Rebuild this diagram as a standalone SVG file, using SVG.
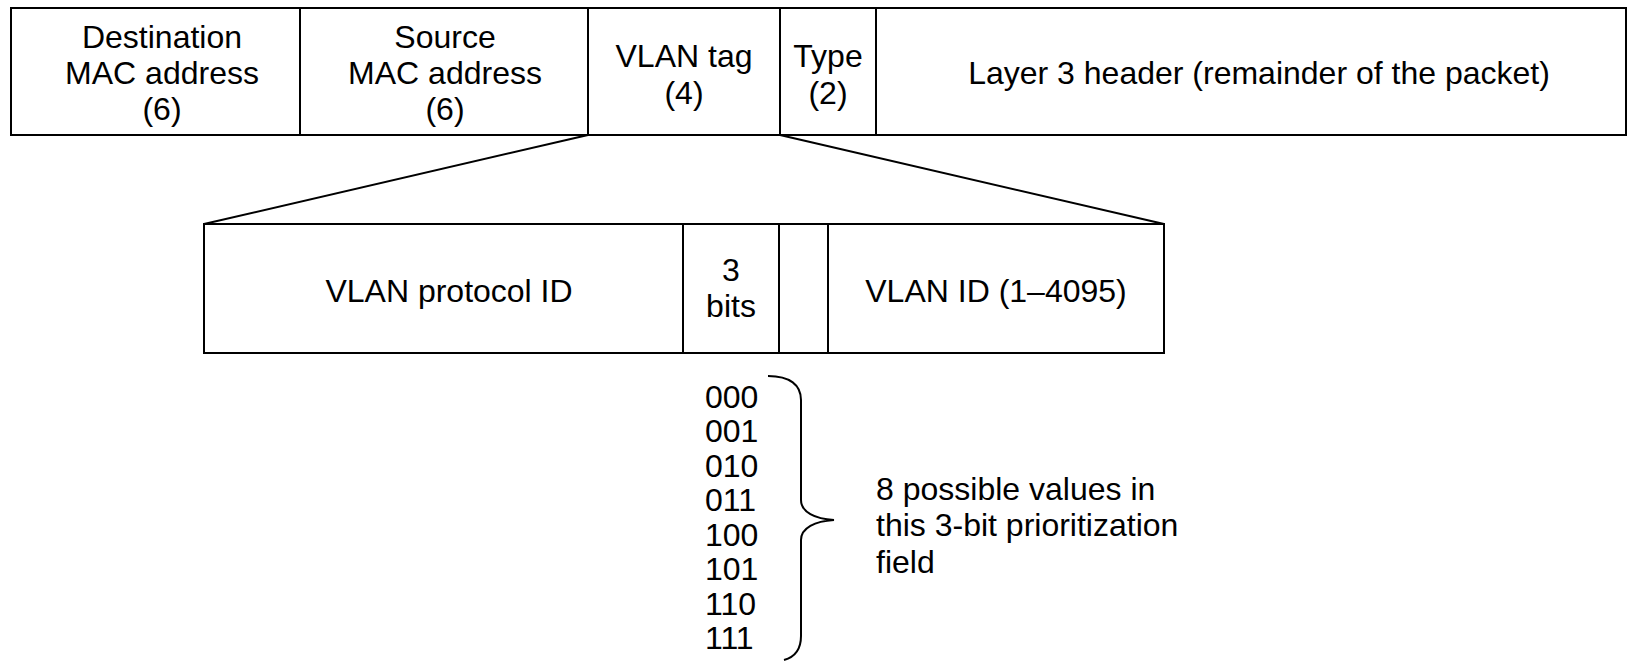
<svg xmlns="http://www.w3.org/2000/svg" width="1628" height="661" viewBox="0 0 1628 661">
<style>
.box{fill:#fff;stroke:#000;stroke-width:2}
.ln{fill:none;stroke:#000;stroke-width:2}
text{font-family:"Liberation Sans",Arial,sans-serif;font-size:32px;fill:#000}
.c{text-anchor:middle}
</style>
<rect width="1628" height="661" fill="#fff"/>
<g id="dest-mac"><rect class="box" x="11" y="8" width="289" height="127"/>
<text class="c" x="162" y="48">Destination</text><text class="c" x="162" y="84">MAC address</text><text class="c" x="162" y="120">(6)</text></g>
<g id="src-mac"><rect class="box" x="300" y="8" width="288" height="127"/>
<text class="c" x="445" y="48">Source</text><text class="c" x="445" y="84">MAC address</text><text class="c" x="445" y="120">(6)</text></g>
<g id="vlan-tag"><rect class="box" x="588" y="8" width="192" height="127"/>
<text class="c" x="684" y="67">VLAN tag</text><text class="c" x="684" y="104">(4)</text></g>
<g id="type"><rect class="box" x="780" y="8" width="96" height="127"/>
<text class="c" x="828" y="67">Type</text><text class="c" x="828" y="104">(2)</text></g>
<g id="layer3"><rect class="box" x="876" y="8" width="750" height="127"/>
<text class="c" x="1259" y="84">Layer 3 header (remainder of the packet)</text></g>
<g id="connectors">
<line class="ln" x1="588" y1="135" x2="204" y2="224"/>
<line class="ln" x1="780" y1="135" x2="1164" y2="224"/>
</g>
<g id="vlan-protocol-id"><rect class="box" x="204" y="224" width="479" height="129"/>
<text class="c" x="449" y="302">VLAN protocol ID</text></g>
<g id="priority-bits"><rect class="box" x="683" y="224" width="96" height="129"/>
<text class="c" x="731" y="281">3</text><text class="c" x="731" y="317">bits</text></g>
<g id="cfi"><rect class="box" x="779" y="224" width="49" height="129"/></g>
<g id="vlan-id"><rect class="box" x="828" y="224" width="336" height="129"/>
<text class="c" x="996" y="302">VLAN ID (1–4095)</text></g>
<g id="values">
<text x="705" y="408">000</text>
<text x="705" y="442">001</text>
<text x="705" y="477">010</text>
<text x="705" y="511">011</text>
<text x="705" y="546">100</text>
<text x="705" y="580">101</text>
<text x="705" y="615">110</text>
<text x="705" y="649">111</text>
</g>
<g id="brace"><path class="ln" d="M 768 376 C 790 376, 801 385, 801 400 L 801 500 C 801 512, 815 519, 834 520 C 815 521, 801 528, 801 540 L 801 636 C 801 650, 795 657, 784 660"/></g>
<g id="note">
<text x="876" y="500">8 possible values in</text>
<text x="876" y="536">this 3-bit prioritization</text>
<text x="876" y="573">field</text>
</g>
</svg>
